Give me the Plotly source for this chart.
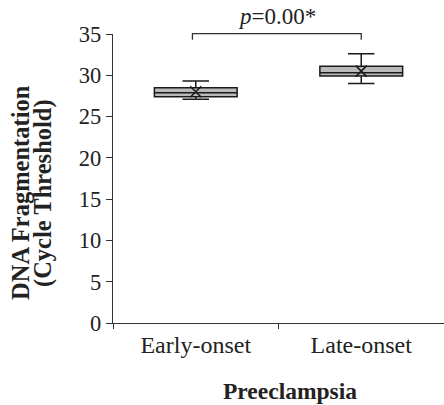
import plotly.graph_objects as go

categories = ["Early-onset", "Late-onset"]
q1 = [27.4, 29.9]
median = [27.9, 30.3]
q3 = [28.5, 31.1]
lower_whisker = [27.1, 29.0]
upper_whisker = [29.3, 32.6]
means = [28.0, 30.5]
y_ticks = [0, 5, 10, 15, 20, 25, 30, 35]
p_label = "<i>p</i>=0.00*"
x_title = "Preeclampsia"
y_title_lines = ["DNA Fragmentation", "(Cycle Threshold)"]
bracket_level = 35.05
bracket_tip = 34.3

Y_MAX = 35
FONT = "Liberation Serif"
W, H = 444, 405
L, R, T = 113, 0, 34
B = H - 323
PW, PH = W - L - R, H - T - B

fig = go.Figure()
fig.add_trace(go.Box(
    x=categories, q1=q1, median=median, q3=q3,
    lowerfence=lower_whisker, upperfence=upper_whisker,
    fillcolor="#bababa", line=dict(color="#1a1a1a", width=1.5),
    width=0.5, whiskerwidth=0.32, boxpoints=False, showlegend=False,
    hoverinfo="skip",
))
fig.add_trace(go.Scatter(
    x=categories, y=means, mode="markers",
    marker=dict(symbol="x-thin", size=11, line=dict(color="#1a1a1a", width=1.6)),
    showlegend=False, hoverinfo="skip",
))

x_range = [-0.5, 1.5]
def xp(i):
    return (i - x_range[0]) / (x_range[1] - x_range[0])
def yp(v):
    return v / Y_MAX
def px_x(p):  # page pixel -> paper
    return (p - L) / PW
def px_y(p):
    return (H - B - p) / PH

x0, x1 = xp(0) - 0.01, xp(1)
fig.add_shape(type="path", xref="paper", yref="paper",
              path=f"M {x0} {yp(bracket_tip)} L {x0} {yp(bracket_level)} L {x1} {yp(bracket_level)} L {x1} {yp(bracket_tip)}",
              line=dict(color="#333333", width=1.3))
fig.add_annotation(x=(x0 + x1) / 2, y=px_y(17), xref="paper", yref="paper",
                   text=p_label, showarrow=False, yanchor="middle",
                   font=dict(family=FONT, size=23, color="#222222"))

# axis titles
fig.add_annotation(x=px_x(290), y=px_y(391), xref="paper", yref="paper",
                   text=f"<b>{x_title}</b>", showarrow=False, yanchor="middle",
                   font=dict(family=FONT, size=23.5, color="#222222"))
for line_text, cx in zip(y_title_lines, [20, 43]):
    fig.add_annotation(x=px_x(cx), y=px_y(193), xref="paper", yref="paper",
                       text=f"<b>{line_text}</b>", showarrow=False, textangle=-90,
                       xanchor="center", yanchor="middle",
                       font=dict(family=FONT, size=24.5, color="#222222"))

fig.update_layout(
    width=W, height=H,
    margin=dict(l=L, r=R, t=T, b=B, autoexpand=False),
    plot_bgcolor="white", paper_bgcolor="white",
    font=dict(family=FONT, color="#222222"),
    xaxis=dict(
        type="category", range=x_range, tickson="boundaries",
        ticks="outside", ticklen=5, tickcolor="#333333",
        showline=True, linecolor="#333333", linewidth=1.3,
        showgrid=False, zeroline=False, automargin=False,
        tickfont=dict(family=FONT, size=24, color="#222222"),
    ),
    yaxis=dict(
        range=[0, Y_MAX], tickvals=y_ticks,
        ticks="outside", ticklen=6, tickcolor="#333333",
        showline=True, linecolor="#333333", linewidth=1.3,
        showgrid=False, zeroline=False, automargin=False,
        tickfont=dict(family=FONT, size=22.5, color="#222222"),
    ),
)

fig.write_html("out.html", config={"displayModeBar": False},
               post_script="document.body.style.margin='0';")
